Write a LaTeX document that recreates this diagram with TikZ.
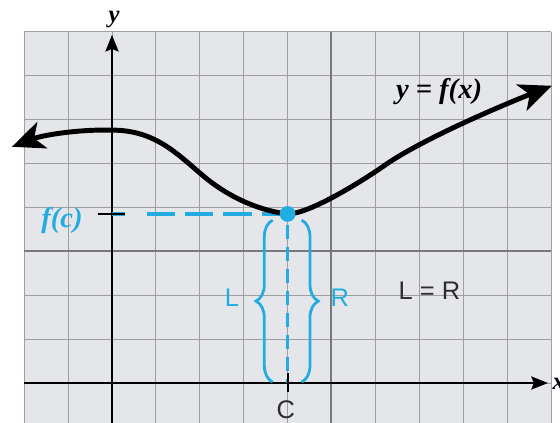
\documentclass[tikz,border=0pt]{standalone}
\usepackage{fontspec}
\setmainfont{Liberation Serif}
\newfontfamily\labsans{Liberation Sans}
\usetikzlibrary{arrows.meta,decorations.pathreplacing}
\definecolor{fblue}{RGB}{35,172,226}
\definecolor{gridbg}{RGB}{229,230,233}
\definecolor{gridcol}{RGB}{158,158,163}
\definecolor{darkgrid}{RGB}{120,120,125}
\definecolor{txtgray}{RGB}{45,45,45}
\tikzset{
  gridline/.style={draw=gridcol, line width=0.6pt},
  darkline/.style={draw=darkgrid, line width=1.3pt},
  axisline/.style={draw=black, line width=1.3pt},
  axtip/.style={-{Stealth[length=0.38cm,width=0.3cm,inset=0.06cm]}},
  curveline/.style={draw=black, line width=3.2pt,
    {Stealth[length=0.74cm,width=0.64cm,inset=0.2cm]}-{Stealth[length=0.74cm,width=0.64cm,inset=0.2cm]}},
  hdash/.style={draw=fblue, line width=3.2pt, dash pattern=on 0.64cm off 0.23cm},
  vdash/.style={draw=fblue, line width=2.2pt, dash pattern=on 0.32cm off 0.18cm},
  bluebrace/.style={draw=fblue, line width=1.8pt, decorate,
    decoration={brace, amplitude=0.38cm}},
  tickline/.style={draw=black, line width=1.3pt},
  mathlab/.style={font=\fontsize{16}{19}\selectfont\bfseries\itshape, inner sep=0pt},
  biglab/.style={font=\fontsize{18.5}{22}\selectfont\bfseries\itshape, inner sep=0pt},
  sanslab/.style={font=\fontsize{16.5}{19}\selectfont\labsans, inner sep=0pt},
}
\begin{document}
\begin{tikzpicture}
\useasboundingbox (-2.551,-0.911) rectangle (10.205,8.724);
% grid
\fill[gridbg] (-2,-0.911) rectangle (10,8);
\draw[gridline] (-2,-0.911) grid (10,8);
\draw[darkline] (5,-0.911) -- (5,8);
\draw[darkline] (-2,3) -- (10,3);
% axes
\coordinate (xstart) at (-2,0);
\coordinate (xend) at (9.93,0);
\coordinate (ystart) at (0,-0.911);
\coordinate (yend) at (0,7.93);
\draw[axisline, axtip] (xstart) -- (xend);
\draw[axisline, axtip] (ystart) -- (yend);
\node[mathlab] (ylab) at (0.05,8.27) {y};
\node[mathlab, anchor=west] (xlab) at (10.03,-0.02) {x};
% point c
\coordinate (fc) at (4,3.85);
\coordinate (cx) at (4,0);
% dashed lines
\coordinate (hstart) at (0.8,3.85);
\draw[hdash] (hstart) -- (fc);
\coordinate (hs0) at (0,3.85);
\coordinate (hs1) at (0.3,3.85);
\draw[draw=fblue, line width=3.2pt] (hs0) -- (hs1);
\coordinate (tk0) at (-0.32,3.85);
\draw[tickline] (tk0) -- (hs1);
\coordinate (vstart) at (4,3.6);
\draw[vdash] (vstart) -- (cx);
% C tick
\coordinate (ct0) at (4,0.23);
\coordinate (ct1) at (4,-0.2);
\draw[tickline] (ct0) -- (ct1);
% braces
\coordinate (lb0) at (3.66,0.02);
\coordinate (lb1) at (3.66,3.71);
\coordinate (rb0) at (4.32,3.71);
\coordinate (rb1) at (4.32,0.02);
\draw[bluebrace] (lb0) -- (lb1);
\draw[bluebrace] (rb0) -- (rb1);
% curve
\coordinate (ctipL) at (-2.28,5.38);
\coordinate (cmax) at (0,5.76);
\coordinate (cinf) at (2.1,4.7);
\coordinate (cup) at (6.2,4.95);
\coordinate (ctipR) at (10.02,6.77);
\draw[curveline] (ctipL) .. controls (-1.6,5.64) and (-0.8,5.78) .. (cmax)
  .. controls (1.0,5.76) and (1.5,5.2) .. (cinf)
  .. controls (2.7,4.2) and (3.4,3.92) .. (fc)
  .. controls (4.5,3.85) and (5.7,4.6) .. (cup)
  .. controls (7.1,5.58) and (9.0,6.37) .. (ctipR);
\fill[fblue] (fc) circle (0.18);
% labels
\node[biglab] (eqlab) at (7.45,6.65) {y = f(x)};
\node[biglab, text=fblue] (fclab) at (-1.14,3.71) {f(c)};
\node[sanslab, text=fblue] (Llab) at (2.73,1.94) {L};
\node[sanslab, text=fblue] (Rlab) at (5.19,1.94) {R};
\node[sanslab, text=txtgray] (LRlab) at (7.23,2.11) {L = R};
\node[sanslab, text=txtgray] (Clab) at (3.96,-0.62) {C};
\end{tikzpicture}
\end{document}
